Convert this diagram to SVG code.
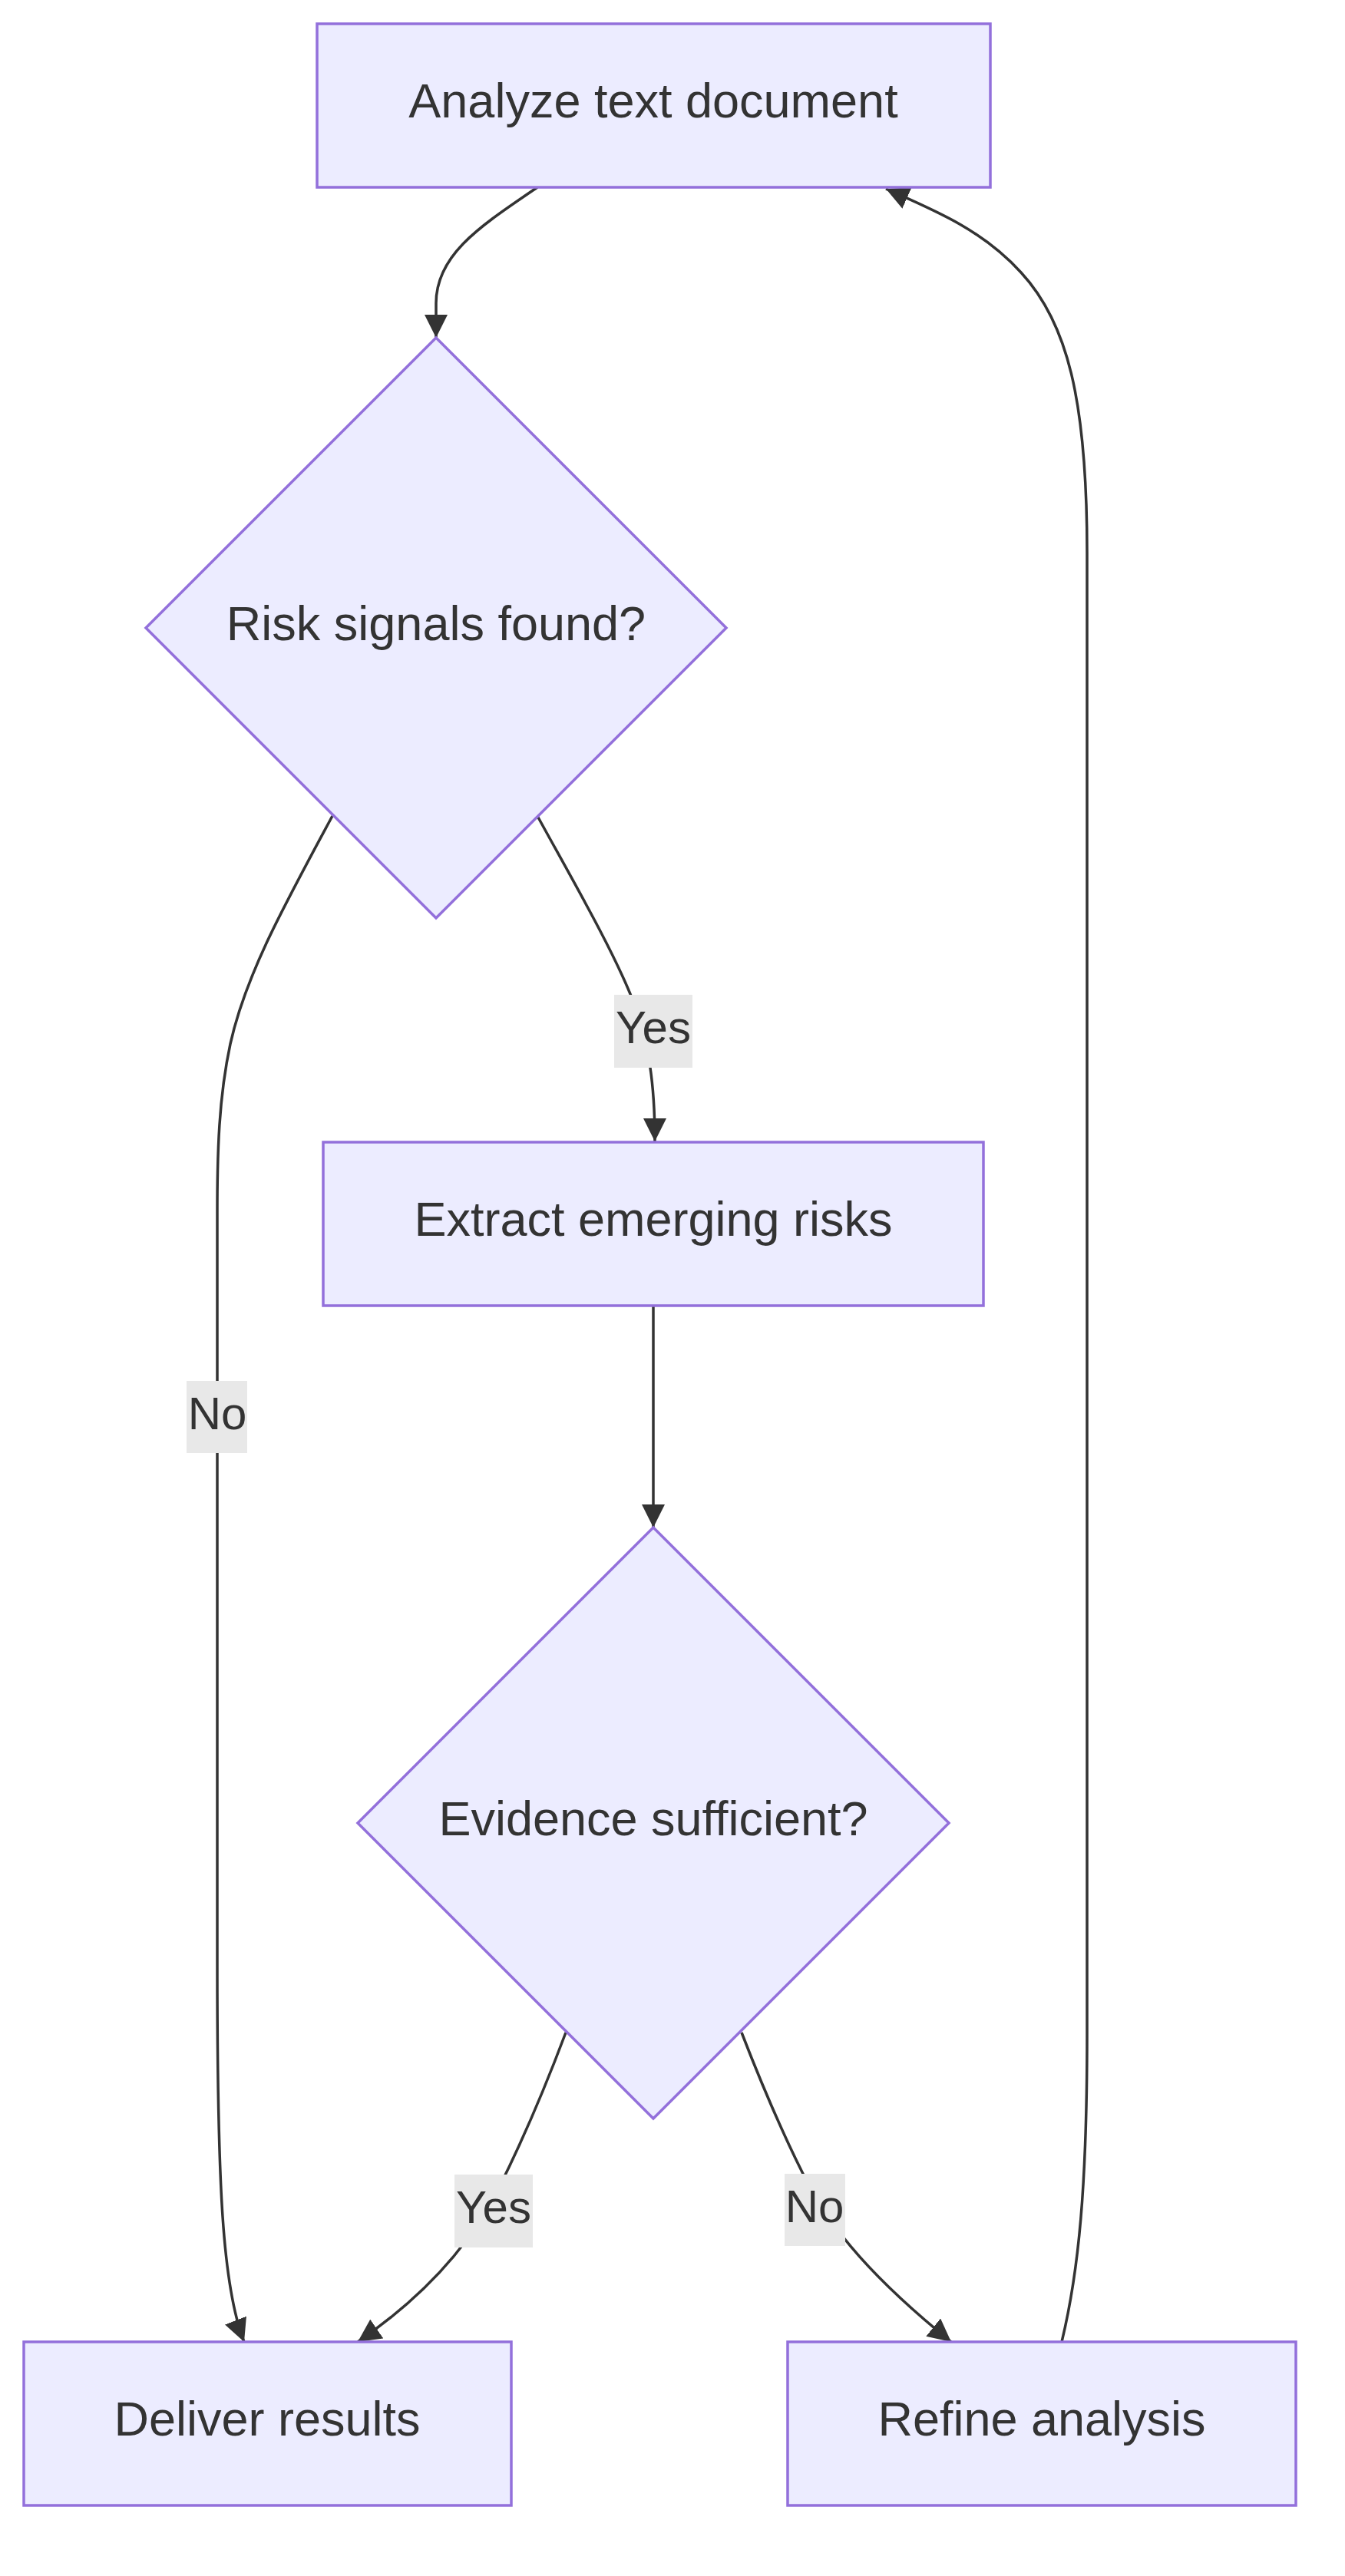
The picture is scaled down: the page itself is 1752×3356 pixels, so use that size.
<svg xmlns="http://www.w3.org/2000/svg" width="1752" height="3356" viewBox="0 0 1752 3356">
<style>
.node{fill:#ECECFF;stroke:#9370DB;stroke-width:3.5}
.lbl{font-family:"Liberation Sans",Arial,sans-serif;font-size:60px;fill:#333333;text-anchor:middle}
.nlbl{font-family:"Liberation Sans",Arial,sans-serif;font-size:63px;fill:#333333;text-anchor:middle}
.edge{fill:none;stroke:#333333;stroke-width:3.5}
.ebg{fill:#e8e8e8}
</style>
<defs>
<marker id="arr" markerUnits="userSpaceOnUse" markerWidth="30" markerHeight="30" refX="30" refY="15" orient="auto" viewBox="0 0 30 30">
<path d="M0,0 L30,15 L0,30 z" fill="#333333"/>
</marker>
</defs>
<rect width="1752" height="3356" fill="#ffffff"/>
<g id="edges">
<path class="edge" marker-end="url(#arr)" d="M700,244 C630,292 568,330 568,395 L568,440"/>
<path class="edge" marker-end="url(#arr)" d="M700,1063 C745,1145 800,1240 825,1305 C845,1360 853,1410 853,1487"/>
<path class="edge" marker-end="url(#arr)" d="M433,1063 C370,1180 320,1270 300,1360 C285,1430 283,1500 283,1580 L283,2560 C283,2850 290,2980 318,3051"/>
<path class="edge" marker-end="url(#arr)" d="M851,1701 L851,1990"/>
<path class="edge" marker-end="url(#arr)" d="M737,2648 C710,2720 680,2790 650,2850 C615,2920 555,2990 466,3051"/>
<path class="edge" marker-end="url(#arr)" d="M966,2648 C990,2710 1020,2780 1045,2830 C1080,2905 1145,2975 1239,3051"/>
<path class="edge" marker-end="url(#arr)" d="M1383,3051 C1405,2960 1416,2850 1416,2650 L1416,720 C1416,520 1390,420 1330,355 C1280,300 1220,275 1154,246"/>
<g id="label-yes1"><rect class="ebg" x="800" y="1296" width="102" height="95"/><text class="lbl" x="851" y="1359">Yes</text></g>
<g id="label-no1"><rect class="ebg" x="243" y="1799" width="79" height="94"/><text class="lbl" x="283" y="1862">No</text></g>
<g id="label-yes2"><rect class="ebg" x="592" y="2833" width="102" height="95"/><text class="lbl" x="643" y="2896">Yes</text></g>
<g id="label-no2"><rect class="ebg" x="1022" y="2832" width="79" height="94"/><text class="lbl" x="1061" y="2895">No</text></g>
</g>
<g id="analyze"><rect class="node" x="413" y="31" width="877" height="213"/><text class="nlbl" x="851" y="153">Analyze text document</text></g>
<g id="risk"><polygon class="node" points="568,440 946,818 568,1196 190,818"/><text class="nlbl" x="568" y="834">Risk signals found?</text></g>
<g id="extract"><rect class="node" x="421" y="1488" width="860" height="213"/><text class="nlbl" x="851" y="1610">Extract emerging risks</text></g>
<g id="evidence"><polygon class="node" points="851,1990 1236,2375 851,2760 466,2375"/><text class="nlbl" x="851" y="2391">Evidence sufficient?</text></g>
<g id="deliver"><rect class="node" x="31" y="3051" width="635" height="213"/><text class="nlbl" x="348" y="3173">Deliver results</text></g>
<g id="refine"><rect class="node" x="1026" y="3051" width="662" height="213"/><text class="nlbl" x="1357" y="3173">Refine analysis</text></g>
</svg>
